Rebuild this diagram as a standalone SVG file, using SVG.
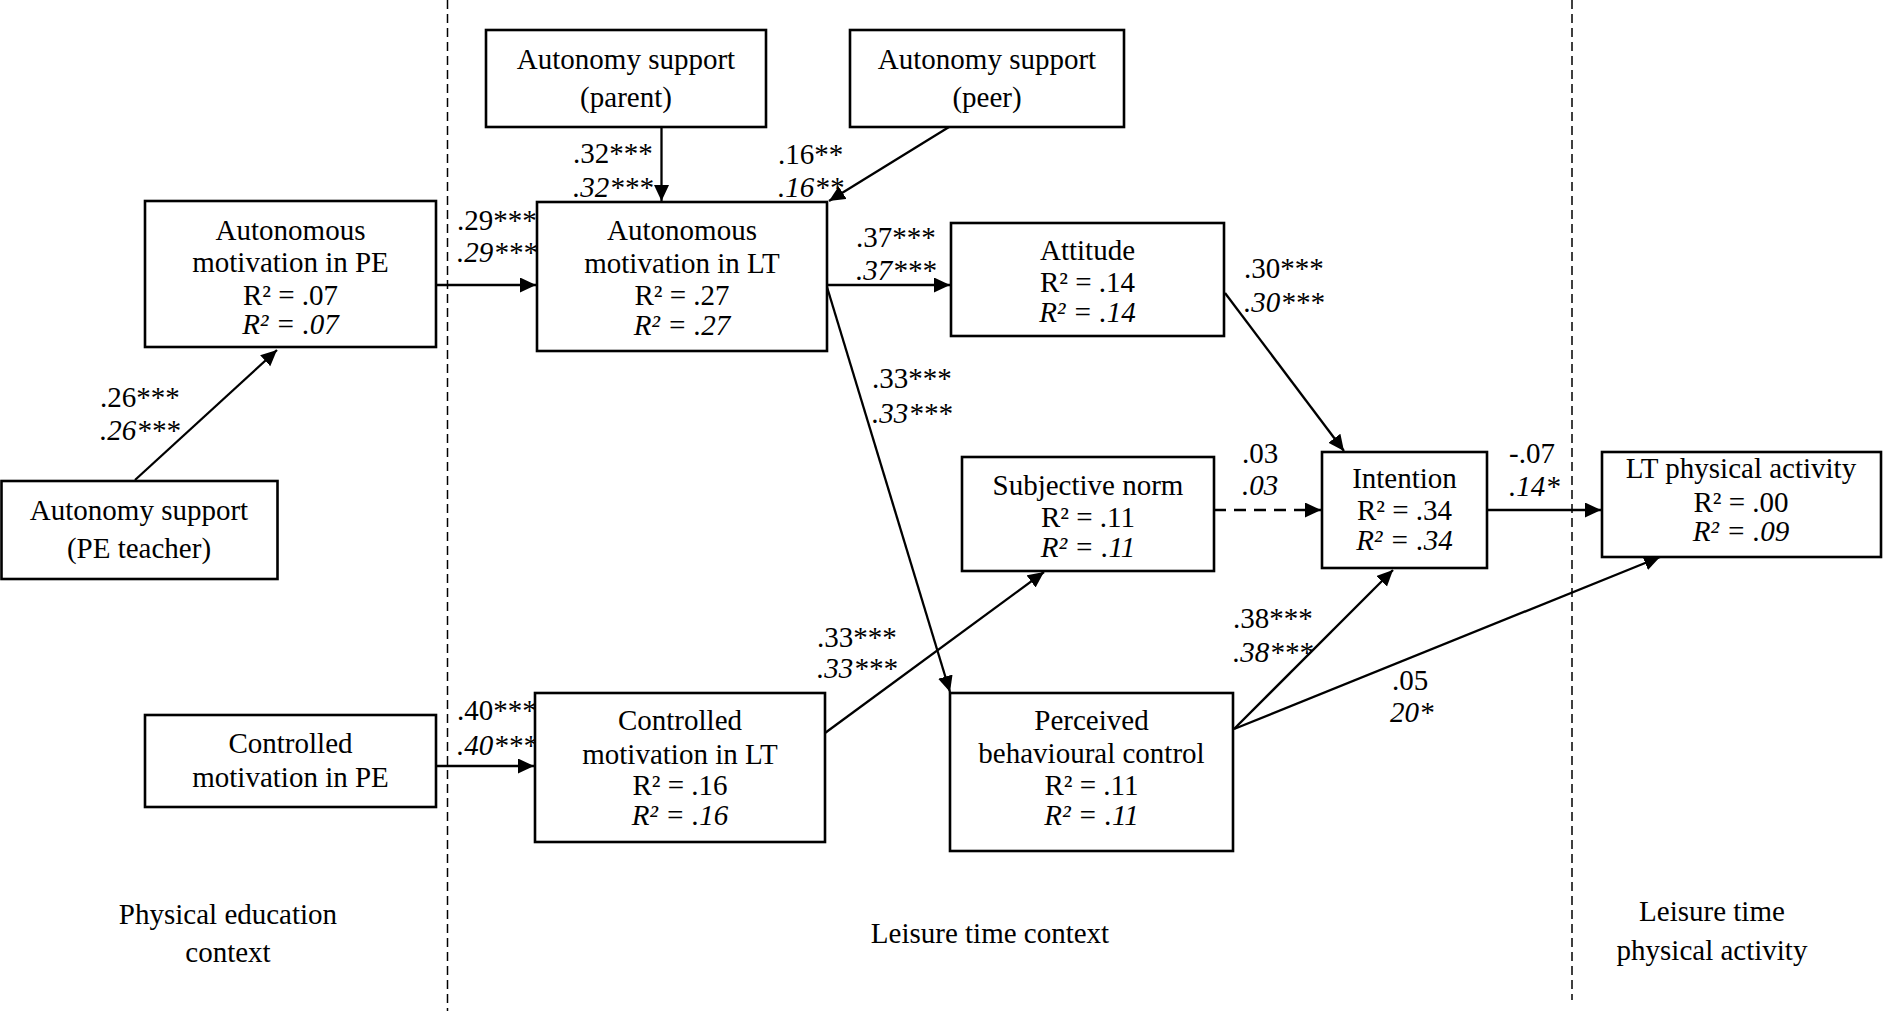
<svg xmlns="http://www.w3.org/2000/svg" width="1883" height="1011" viewBox="0 0 1883 1011">
<style>
text{font-family:"Liberation Serif","Times New Roman",serif;font-size:29px;fill:#000}
.c{text-anchor:middle}
.i{font-style:italic}
.box{fill:#fff;stroke:#000;stroke-width:2.6}
.ln{stroke:#000;stroke-width:2.3;fill:none}
.dash{stroke-dasharray:12 8}
.sep{stroke:#000;stroke-width:1.5;stroke-dasharray:9 5;fill:none}
</style>
<defs>
<marker id="ah" markerUnits="userSpaceOnUse" markerWidth="18" markerHeight="16" refX="16" refY="7.5" orient="auto">
<path d="M0,0 L16,7.5 L0,15 z" fill="#000"/>
</marker>
</defs>
<g id="separators">
<line class="sep" x1="447.5" y1="0" x2="447.5" y2="1011"/>
<line class="sep" x1="1572" y1="0" x2="1572" y2="1000"/>
</g>
<g id="connectors">
<line class="ln" x1="135" y1="480" x2="277" y2="350" marker-end="url(#ah)"/>
<line class="ln" x1="436" y1="285" x2="536" y2="285" marker-end="url(#ah)"/>
<line class="ln" x1="661.5" y1="127" x2="661.5" y2="201" marker-end="url(#ah)"/>
<line class="ln" x1="949" y1="127" x2="829" y2="201" marker-end="url(#ah)"/>
<line class="ln" x1="436" y1="766" x2="534" y2="766" marker-end="url(#ah)"/>
<line class="ln" x1="827" y1="285" x2="950" y2="285" marker-end="url(#ah)"/>
<line class="ln" x1="827" y1="287" x2="950" y2="692" marker-end="url(#ah)"/>
<line class="ln" x1="825" y1="733" x2="1044" y2="572" marker-end="url(#ah)"/>
<line class="ln" x1="1225" y1="293" x2="1344" y2="451" marker-end="url(#ah)"/>
<line class="ln dash" x1="1214" y1="510" x2="1321" y2="510" marker-end="url(#ah)"/>
<line class="ln" x1="1487" y1="510" x2="1601" y2="510" marker-end="url(#ah)"/>
<line class="ln" x1="1234" y1="729" x2="1393" y2="570" marker-end="url(#ah)"/>
<line class="ln" x1="1234" y1="729" x2="1660" y2="557" marker-end="url(#ah)"/>
</g>
<g id="labels">
<text x="100" y="407">.26***</text><text class="i" x="100" y="440">.26***</text>
<text x="457" y="230">.29***</text><text class="i" x="457" y="262">.29***</text>
<text x="573" y="163">.32***</text><text class="i" x="573" y="197">.32***</text>
<text x="778" y="164">.16**</text><text class="i" x="778" y="197">.16**</text>
<text x="856" y="247">.37***</text><text class="i" x="856" y="280">.37***</text>
<text x="872" y="388">.33***</text><text class="i" x="872" y="423">.33***</text>
<text x="1244" y="278">.30***</text><text class="i" x="1244" y="312">.30***</text>
<text x="1242" y="463">.03</text><text class="i" x="1242" y="495">.03</text>
<text x="1509" y="463">-.07</text><text class="i" x="1509" y="496">.14*</text>
<text x="817" y="647">.33***</text><text class="i" x="817" y="678">.33***</text>
<text x="1233" y="628">.38***</text><text class="i" x="1233" y="662">.38***</text>
<text x="1392" y="690">.05</text><text class="i" x="1390" y="722">20*</text>
<text x="457" y="720">.40***</text><text class="i" x="457" y="755">.40***</text>
</g>
<g id="asPE">
<rect class="box" x="1.5" y="481" width="276" height="98"/>
<text class="c" x="139" y="520">Autonomy support</text>
<text class="c" x="139" y="558">(PE teacher)</text>
</g>
<g id="amPE">
<rect class="box" x="145" y="201" width="291" height="146"/>
<text class="c" x="290.5" y="240">Autonomous</text>
<text class="c" x="290.5" y="272">motivation in PE</text>
<text class="c" x="290.5" y="305">R² = .07</text>
<text class="c i" x="290.5" y="334">R² = .07</text>
</g>
<g id="cmPE">
<rect class="box" x="145" y="715" width="291" height="92"/>
<text class="c" x="290.5" y="753">Controlled</text>
<text class="c" x="290.5" y="787">motivation in PE</text>
</g>
<g id="asParent">
<rect class="box" x="486" y="30" width="280" height="97"/>
<text class="c" x="626" y="69">Autonomy support</text>
<text class="c" x="626" y="107">(parent)</text>
</g>
<g id="asPeer">
<rect class="box" x="850" y="30" width="274" height="97"/>
<text class="c" x="987" y="69">Autonomy support</text>
<text class="c" x="987" y="107">(peer)</text>
</g>
<g id="amLT">
<rect class="box" x="537" y="202" width="290" height="149"/>
<text class="c" x="682" y="240">Autonomous</text>
<text class="c" x="682" y="273">motivation in LT</text>
<text class="c" x="682" y="305">R² = .27</text>
<text class="c i" x="682" y="335">R² = .27</text>
</g>
<g id="attitude">
<rect class="box" x="951" y="223" width="273" height="113"/>
<text class="c" x="1087.5" y="260">Attitude</text>
<text class="c" x="1087.5" y="292">R² = .14</text>
<text class="c i" x="1087.5" y="322">R² = .14</text>
</g>
<g id="subjectiveNorm">
<rect class="box" x="962" y="457" width="252" height="114"/>
<text class="c" x="1088" y="495">Subjective norm</text>
<text class="c" x="1088" y="527">R² = .11</text>
<text class="c i" x="1088" y="557">R² = .11</text>
</g>
<g id="intention">
<rect class="box" x="1322" y="452" width="165" height="116"/>
<text class="c" x="1404.5" y="488">Intention</text>
<text class="c" x="1404.5" y="520">R² = .34</text>
<text class="c i" x="1404.5" y="550">R² = .34</text>
</g>
<g id="ltpa">
<rect class="box" x="1602" y="452" width="279" height="105"/>
<text class="c" x="1741" y="478">LT physical activity</text>
<text class="c" x="1741" y="512">R² = .00</text>
<text class="c i" x="1741" y="541">R² = .09</text>
</g>
<g id="cmLT">
<rect class="box" x="535" y="693" width="290" height="149"/>
<text class="c" x="680" y="730">Controlled</text>
<text class="c" x="680" y="764">motivation in LT</text>
<text class="c" x="680" y="795">R² = .16</text>
<text class="c i" x="680" y="825">R² = .16</text>
</g>
<g id="pbc">
<rect class="box" x="950" y="693" width="283" height="158"/>
<text class="c" x="1091.5" y="730">Perceived</text>
<text class="c" x="1091.5" y="763">behavioural control</text>
<text class="c" x="1091.5" y="795">R² = .11</text>
<text class="c i" x="1091.5" y="825">R² = .11</text>
</g>
<g id="contexts">
<text class="c" x="228" y="924">Physical education</text>
<text class="c" x="228" y="962">context</text>
<text class="c" x="990" y="943">Leisure time context</text>
<text class="c" x="1712" y="921">Leisure time</text>
<text class="c" x="1712" y="960">physical activity</text>
</g>
</svg>
